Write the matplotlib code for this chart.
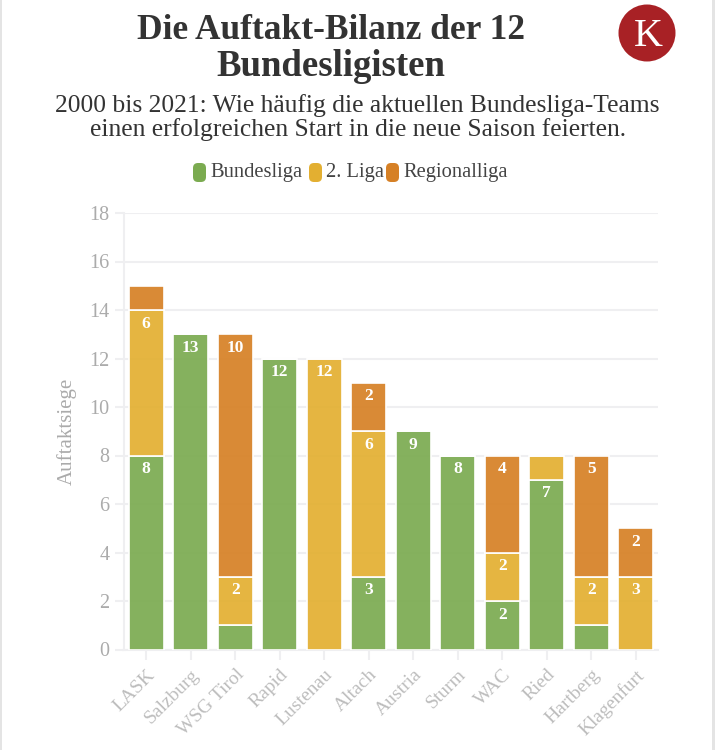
import matplotlib
matplotlib.use("Agg")
import matplotlib.pyplot as plt
from matplotlib.colors import to_rgba
from matplotlib.patches import Circle, FancyBboxPatch, Rectangle
from matplotlib.transforms import IdentityTransform, ScaledTranslation

teams = ["LASK", "Salzburg", "WSG Tirol", "Rapid", "Lustenau", "Altach",
         "Austria", "Sturm", "WAC", "Ried", "Hartberg", "Klagenfurt"]
bundesliga = [8, 13, 1, 12, 0, 3, 9, 8, 2, 7, 1, 0]
zweite_liga = [6, 0, 2, 0, 12, 6, 0, 0, 2, 1, 2, 3]
regionalliga = [1, 0, 10, 0, 0, 2, 0, 0, 4, 0, 5, 2]
y_ticks = [0, 2, 4, 6, 8, 10, 12, 14, 16, 18]

GREEN = "#7BAB50"
YELLOW = "#E3AF31"
ORANGE = "#D68025"
GRID = "#EFEFF1"
TICK_TEXT = "#ABABAB"
DARK = "#333333"
W, H = 715, 750

plt.rcParams["font.family"] = ["Liberation Serif", "DejaVu Serif"]

fig = plt.figure(figsize=(W / 100, H / 100), dpi=100, facecolor="white")


def px_x(x):
    return x / W


def px_y(y):
    return 1 - y / H


# plot area in pixels: x 124-658, y 213-649.5
ax = fig.add_axes([px_x(124), px_y(649.5), (658 - 124) / W, (649.5 - 213) / H])
ax.set_xlim(-0.5, 11.5)
ax.set_ylim(0, 18)
ax.set_axisbelow(True)
ax.grid(axis="y", color=GRID, linewidth=1.5)
for name in ["top", "right"]:
    ax.spines[name].set_visible(False)
for name in ["left", "bottom"]:
    ax.spines[name].set_color(GRID)
    ax.spines[name].set_linewidth(1.5)

positions = range(len(teams))
bottom = [0] * len(teams)
for values, color in [(bundesliga, GREEN), (zweite_liga, YELLOW), (regionalliga, ORANGE)]:
    ax.bar(positions, values, bottom=bottom, width=0.78, color=to_rgba(color, 0.92),
           edgecolor="white", linewidth=1.2, zorder=3)
    for i, v in enumerate(values):
        # small segments carry no label in the original
        if v >= 2:
            ax.annotate(str(v), (i, bottom[i] + v), xytext=(0, -4), textcoords="offset points",
                        ha="center", va="top", color="white", fontsize=12.5,
                        fontweight="bold", zorder=4)
    bottom = [b + v for b, v in zip(bottom, values)]

ax.set_yticks(y_ticks)
ax.set_xticks(list(positions))
ax.set_xticklabels(teams, rotation=45, ha="right", rotation_mode="anchor")
shift = ScaledTranslation(-4 / 100, 0, fig.dpi_scale_trans)
for label in ax.get_xticklabels():
    label.set_transform(label.get_transform() + shift)
ax.tick_params(axis="y", length=6.5, width=1.5, color=GRID, labelcolor=TICK_TEXT,
               labelsize=14.5, pad=4)
ax.tick_params(axis="x", length=7, width=1.5, color=GRID, labelcolor="#BDBDBD",
               labelsize=14, pad=5)
ax.set_ylabel("Auftaktsiege", color=TICK_TEXT, fontsize=15)
ax.yaxis.set_label_coords((77 - 124) / (658 - 124), 0.5)

# header, positioned by text baseline
fig.text(px_x(331), px_y(39), "Die Auftakt-Bilanz der 12", ha="center", va="baseline",
         fontsize=25.5, fontweight="bold", color=DARK)
fig.text(px_x(331), px_y(75.5), "Bundesligisten", ha="center", va="baseline",
         fontsize=26.5, fontweight="bold", color=DARK)
fig.text(px_x(357.5), px_y(112), "2000 bis 2021: Wie häufig die aktuellen Bundesliga-Teams",
         ha="center", va="baseline", fontsize=18.4, color=DARK)
fig.text(px_x(357.5), px_y(136), "einen erfolgreichen Start in die neue Saison feierten.",
         ha="center", va="baseline", fontsize=18.4, color=DARK)

# legend with pill shaped markers
legend_items = [("Bundesliga", GREEN, 193, 210), ("2. Liga", YELLOW, 309, 326),
                ("Regionalliga", ORANGE, 386, 403)]
for label, color, x0, text_x in legend_items:
    fig.add_artist(FancyBboxPatch((x0 + 4, H - 178), 5, 11, boxstyle="round,pad=4,rounding_size=5",
                                  transform=IdentityTransform(), facecolor=color, edgecolor="none"))
    fig.text(px_x(text_x), px_y(177.5), label, ha="left", va="baseline", fontsize=14.8, color="#444444")

# logo
fig.add_artist(Circle((647, H - 33), 28.5, transform=IdentityTransform(), facecolor="#A82125",
                      edgecolor="none"))
fig.text(px_x(648), px_y(46.5), "K", ha="center", va="baseline", fontsize=29, color="white")

# grey page edges
fig.add_artist(Rectangle((0, 0), 2, H, transform=IdentityTransform(), facecolor="#E4E4E4", edgecolor="none"))
fig.add_artist(Rectangle((W - 3, 0), 3, H, transform=IdentityTransform(), facecolor="#E4E4E4", edgecolor="none"))

fig.savefig("out.png", dpi=100)
